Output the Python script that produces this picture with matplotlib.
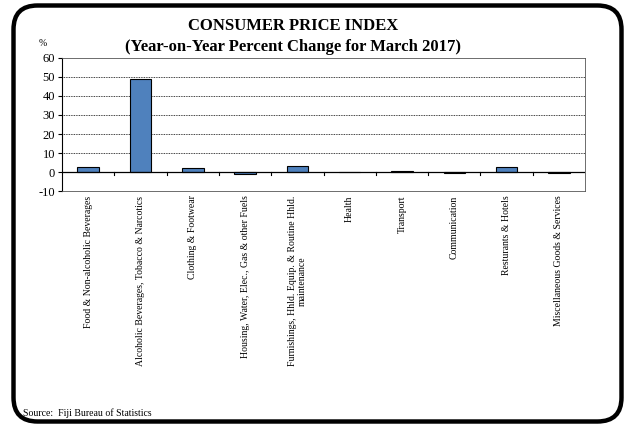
import matplotlib.pyplot as plt
import numpy as np
from matplotlib.patches import FancyBboxPatch
import matplotlib.transforms as mtransforms

# === CPI year-on-year change by group, March 2017 ===
categories = [
    'Food & Non-alcoholic Beverages',
    'Alcoholic Beverages, Tobacco & Narcotics',
    'Clothing & Footwear',
    'Housing, Water, Elec., Gas & other Fuels',
    'Furnishings, Hhld. Equip. & Routine Hhld.\nmaintenance',
    'Health',
    'Transport',
    'Communication',
    'Resturants & Hotels',
    'Miscellaneous Goods & Services',
]
values = [3.0, 48.6, 2.0, -0.7, 3.3, 0.3, 0.6, -0.3, 3.0, -0.6]
yticks = [-10, 0, 10, 20, 30, 40, 50, 60]

plt.rcParams['font.family'] = ['Liberation Serif', 'DejaVu Serif']
plt.rcParams['axes.unicode_minus'] = False

fig = plt.figure(figsize=(6.27, 4.30), dpi=100)

# === Rounded outer frame (pixel-sized background axes) ===
bg = fig.add_axes([0, 0, 1, 1])
bg.set_xlim(0, 627)
bg.set_ylim(430, 0)
bg.axis('off')
frame = FancyBboxPatch((13.5, 5.5), 608, 416,
                       boxstyle='round,pad=0,rounding_size=24',
                       fill=False, edgecolor='black', linewidth=3.2)
bg.add_patch(frame)

# === Bar chart ===
ax = fig.add_axes([0.099, 0.555, 0.834, 0.311])
x = np.arange(len(categories))
ax.bar(x, values, width=0.41, color='#4F81BD', edgecolor='black', linewidth=0.8, zorder=3)

ax.set_xlim(-0.5, len(categories) - 0.5)
ax.set_ylim(-10, 60)
ax.set_yticks(yticks)
ax.tick_params(axis='y', labelsize=9, length=3, width=0.8, direction='out', pad=2)

# gridlines and zero line
for yv in yticks[2:-1]:
    ax.axhline(yv, color='black', linestyle=(0, (1, 1)), linewidth=0.6, zorder=1)
ax.axhline(0, color='black', linewidth=0.9, zorder=4)

# category separators hanging from the zero line
trans = mtransforms.blended_transform_factory(ax.transData, ax.transAxes)
zero_frac = (0 - (-10)) / 70
for b in x[:-1] + 0.5:
    ax.plot([b, b], [zero_frac, zero_frac - 0.02], color='black', linewidth=0.8,
            transform=trans, zorder=4)

ax.set_xticks(x)
ax.set_xticklabels(categories, rotation=90, fontsize=7, va='top', ha='center',
                   multialignment='center')
ax.tick_params(axis='x', length=0, pad=3)

for side in ['top', 'right', 'bottom']:
    ax.spines[side].set_linewidth(0.6)
    ax.spines[side].set_color('#555555')
ax.spines['left'].set_linewidth(0.8)

# === Titles and notes ===
fig.text(0.467, 1 - 26.5 / 430, 'CONSUMER PRICE INDEX', ha='center', va='center',
         fontsize=12, fontweight='bold')
fig.text(0.467, 1 - 47 / 430, '(Year-on-Year Percent Change for March 2017)',
         ha='center', va='center', fontsize=12, fontweight='bold')
fig.text(43 / 627, 1 - 44 / 430, '%', ha='center', va='center', fontsize=7)
fig.text(23 / 627, 1 - 418 / 430, 'Source:  Fiji Bureau of Statistics',
         ha='left', va='bottom', fontsize=7)

plt.savefig('out.png', dpi=100)
